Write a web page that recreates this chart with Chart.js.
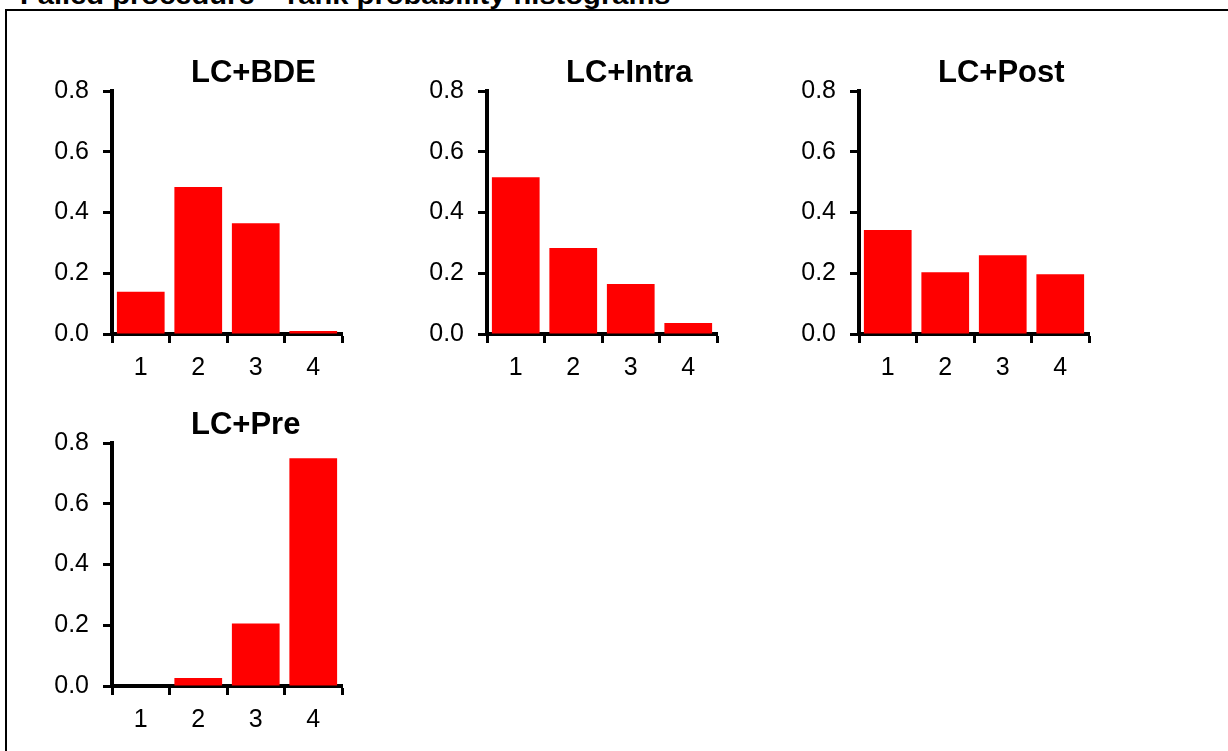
<!DOCTYPE html>
<html>
<head>
<meta charset="utf-8">
<script src="https://cdn.jsdelivr.net/npm/chart.js@4.4.1/dist/chart.umd.min.js"></script>
<style>
  body { margin: 0; background: #fff; width: 1228px; height: 751px; overflow: hidden; position: relative; font-family: "Liberation Sans", Arial, sans-serif; }
  #frame { position: absolute; left: 5px; top: 9px; width: 1240px; height: 760px; border: 2px solid #000; box-sizing: border-box; }
  #heading { position: absolute; left: 20px; top: -18px; font-weight: bold; font-size: 26px; line-height: 26px; white-space: nowrap; color: #000; transform: scaleX(1.12); transform-origin: 0 0; }
  .panel { position: absolute; width: 320px; height: 353px; }
</style>
</head>
<body>
<div id="frame"></div>
<div id="heading">Failed procedure – rank probability histograms</div>
<div class="panel" style="left:32px; top:41px;"><canvas id="c1"></canvas></div>
<div class="panel" style="left:407px; top:41px;"><canvas id="c2"></canvas></div>
<div class="panel" style="left:779px; top:41px;"><canvas id="c3"></canvas></div>
<div class="panel" style="left:32px; top:393px;"><canvas id="c4"></canvas></div>
<script>
const ranks = ['1', '2', '3', '4'];
const lcBde = [0.139, 0.484, 0.365, 0.01];
const lcIntra = [0.516, 0.283, 0.165, 0.036];
const lcPost = [0.342, 0.203, 0.259, 0.197];
const lcPre = [0, 0.026, 0.206, 0.75];
const yTicks = [0, 0.2, 0.4, 0.6, 0.8];

const fontFamily = '"Liberation Sans", Arial, sans-serif';

// panel title drawn left-aligned above the plot area
const panelTitle = {
    id: 'panelTitle',
    afterDraw(chart, args, opts) {
        const ctx = chart.ctx;
        ctx.save();
        ctx.font = 'bold 31px ' + fontFamily;
        ctx.fillStyle = '#000';
        ctx.textBaseline = 'alphabetic';
        ctx.textAlign = 'left';
        ctx.fillText(opts.text, chart.chartArea.left + 79, chart.chartArea.top - 9);
        ctx.restore();
    }
};

function makePanel(id, title, values) {
    const ctx = document.getElementById(id).getContext('2d');
    return new Chart(ctx, {
        type: 'bar',
        data: {
            labels: ranks,
            datasets: [{
                data: values,
                backgroundColor: '#ff0000',
                borderWidth: 0,
                categoryPercentage: 1,
                barPercentage: 0.83
            }]
        },
        options: {
            responsive: false,
            animation: false,
            devicePixelRatio: 1,
            layout: { padding: { top: 50, right: 10, left: 0, bottom: 0 } },
            plugins: {
                legend: { display: false },
                tooltip: { enabled: false },
                title: { display: false },
                panelTitle: { text: title }
            },
            scales: {
                x: {
                    afterFit: s => { s.height = 60; },
                    grid: {
                        offset: true,
                        drawOnChartArea: false,
                        drawTicks: true,
                        tickLength: 9,
                        tickWidth: 3,
                        tickColor: '#000'
                    },
                    border: { display: true, color: '#000', width: 4 },
                    ticks: { color: '#000', padding: 10, font: { family: fontFamily, size: 25 } }
                },
                y: {
                    min: 0,
                    max: 0.8,
                    afterFit: s => { s.width = 80; },
                    afterBuildTicks: s => { s.ticks = yTicks.map(v => ({ value: v })); },
                    grid: {
                        drawOnChartArea: false,
                        drawTicks: true,
                        tickLength: 9,
                        tickWidth: 3,
                        tickColor: '#000'
                    },
                    border: { display: true, color: '#000', width: 4 },
                    ticks: {
                        color: '#000',
                        padding: 14,
                        font: { family: fontFamily, size: 25 },
                        callback: v => Number(v).toFixed(1)
                    }
                }
            }
        },
        plugins: [panelTitle]
    });
}

document.querySelectorAll('canvas').forEach(c => { c.width = 320; c.height = 353; });
makePanel('c1', 'LC+BDE', lcBde);
makePanel('c2', 'LC+Intra', lcIntra);
makePanel('c3', 'LC+Post', lcPost);
makePanel('c4', 'LC+Pre', lcPre);
</script>
</body>
</html>
